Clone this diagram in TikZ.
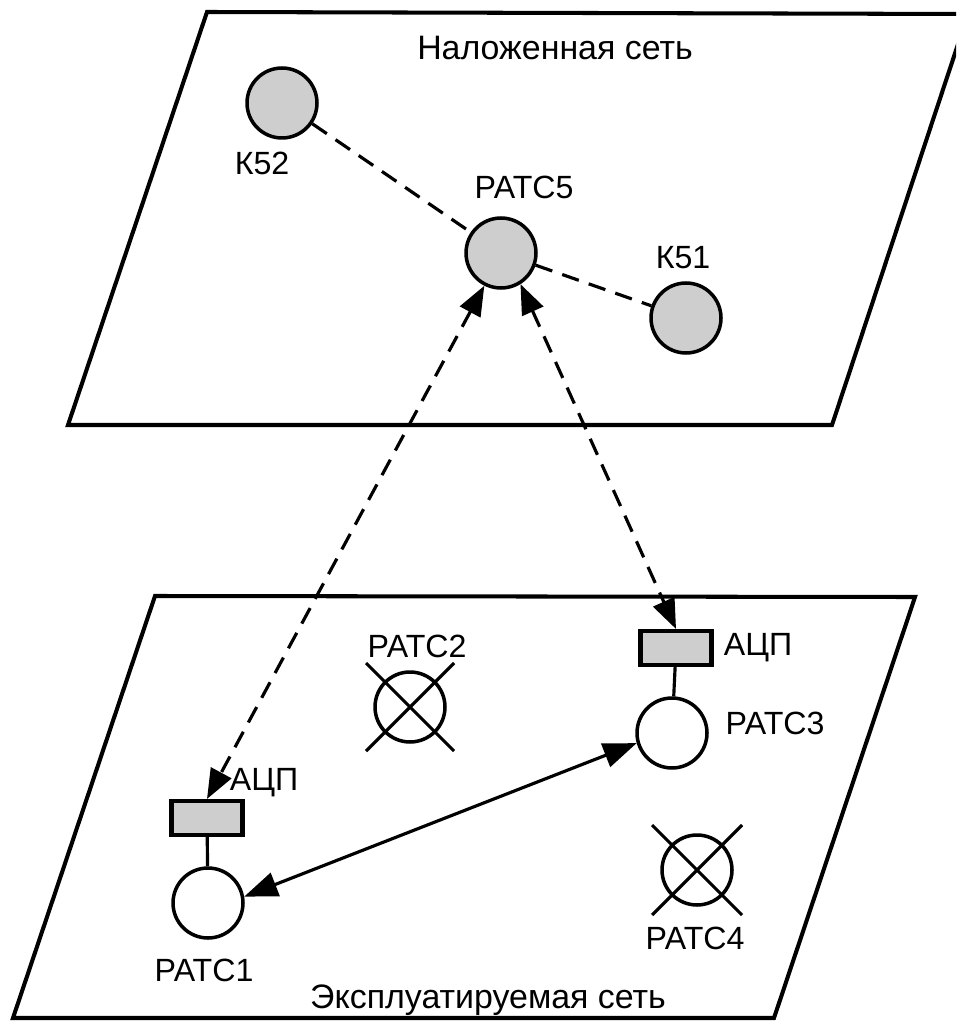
\documentclass[tikz,border=0pt]{standalone}
\usepackage{fontspec}
\setmainfont{Liberation Sans}
\usetikzlibrary{arrows.meta}
\definecolor{nodegray}{RGB}{206,206,206}
\begin{document}
\begin{tikzpicture}[x=0.02cm,y=-0.02cm,
  plane/.style={draw=black,line width=2.3pt,line join=miter},
  hub/.style={circle,draw=black,line width=2pt,fill=nodegray,minimum size=1.4cm,inner sep=0pt},
  station/.style={circle,draw=black,line width=2pt,fill=white,minimum size=1.4cm,inner sep=0pt},
  adc/.style={rectangle,draw=black,line width=2.3pt,fill=nodegray,minimum width=1.42cm,minimum height=0.68cm,inner sep=0pt},
  lbl/.style={font=\fontsize{18.3}{21}\selectfont,inner sep=0pt},
  ttl/.style={font=\fontsize{19.3}{22}\selectfont,inner sep=0pt},
  dline/.style={line width=1.8pt,dash pattern=on 10pt off 6pt},
  darrow/.style={line width=1.8pt,dash pattern=on 10pt off 6pt,{Triangle[length=17pt,width=13pt]}-{Triangle[length=17pt,width=13pt]}},
  sarrow/.style={line width=1.8pt,{Triangle[length=19pt,width=14pt]}-{Triangle[length=19pt,width=14pt]}},
  cross/.style={line width=1.8pt},
  stub/.style={line width=1.8pt}]
\clip (0,0) rectangle (956,1023);
\fill[white] (0,0) rectangle (956,1023);
% planes
\draw[plane] (207,12) -- (968,14) -- (832,425) -- (68,425) -- cycle;
\draw[plane] (155,596) -- (915,597) -- (774,1018) -- (13,1018) -- cycle;
% titles
\node[ttl] (t1) at (555,48) {Наложенная сеть};
\node[ttl] (t2) at (488,1000) {Эксплуатируемая сеть};
% overlay network
\node[hub] (k52) at (282,103) {};
\node[hub] (ratc5) at (501,253) {};
\node[hub] (k51) at (686,318) {};
\node[lbl] (k52l) at (262,163) {К52};
\node[lbl] (ratc5l) at (524,187) {РАТС5};
\node[lbl] (k51l) at (683,258) {К51};
\draw[dline] (k52) -- (ratc5);
\draw[dline] (ratc5) -- (k51);
% operated network
\node[adc] (adc1) at (207,818) {};
\node[station] (ratc1) at (208,903) {};
\node[lbl] (adc1l) at (264,783) {АЦП};
\node[lbl] (ratc1l) at (204,970) {РАТС1};
\draw[stub] (adc1) -- (ratc1);

\node[adc] (adc3) at (676,648) {};
\node[station] (ratc3) at (672,733) {};
\node[lbl] (adc3l) at (758,648) {АЦП};
\node[lbl] (ratc3l) at (775,723) {РАТС3};
\draw[stub] (adc3) -- (ratc3);

\node[station] (ratc2) at (410,707) {};
\coordinate (c2a) at (366,663);
\coordinate (c2b) at (454,751);
\coordinate (c2c) at (454,663);
\coordinate (c2d) at (366,751);
\draw[cross] (c2a) -- (c2b);
\draw[cross] (c2c) -- (c2d);
\node[lbl] (ratc2l) at (417,646) {РАТС2};

\node[station] (ratc4) at (697,870) {};
\coordinate (c4a) at (652,825);
\coordinate (c4b) at (742,915);
\coordinate (c4c) at (742,825);
\coordinate (c4d) at (652,915);
\draw[cross] (c4a) -- (c4b);
\draw[cross] (c4c) -- (c4d);
\node[lbl] (ratc4l) at (695,938) {РАТС4};
% connections
\draw[darrow] (ratc5.243) -- (adc1.north);
\draw[darrow] (ratc5.302) -- (adc3.north);
\draw[sarrow] (ratc1.10) -- (ratc3.196);
\end{tikzpicture}
\end{document}
